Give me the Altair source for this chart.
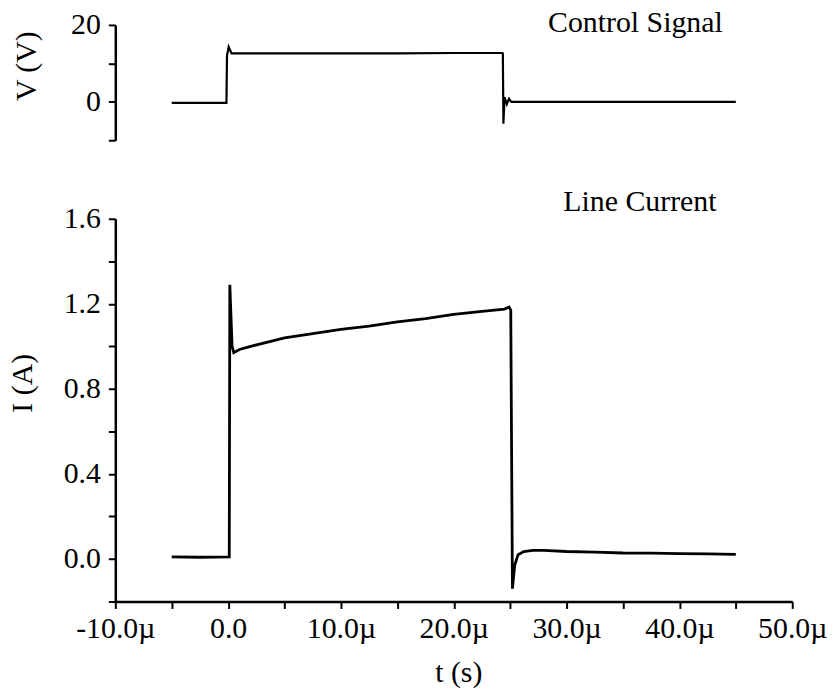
import altair as alt
import pandas as pd

FONT = "Liberation Serif"

# ---- Control signal (top panel): time in microseconds, voltage in volts
ctrl_t = [-5.0, -0.15, -0.1, 0.05, 0.3, 5.0, 10.0, 15.0, 20.0, 24.3, 24.35, 24.4, 24.5, 24.7, 24.9, 25.1, 30.0, 35.0, 40.0, 45.0]
ctrl_v = [-0.3, -0.3, 12.0, 14.3, 12.6, 12.6, 12.6, 12.6, 12.7, 12.7, 12.6, -5.7, 1.2, -0.6, 0.8, 0.0, 0.0, 0.0, 0.0, 0.0]

# ---- Line current (bottom panel): time in microseconds, current in amperes
cur_t = [-5.0, -2.5, 0.1, 0.15, 0.35, 0.5, 1.0, 2.0, 3.5, 5.0, 7.5, 10.0, 12.5, 15.0, 17.5, 20.0, 22.5, 24.5, 24.9,
         25.05, 25.2, 25.4, 25.7, 26.2, 27.0, 28.0, 30.0, 32.5, 35.0, 37.5, 40.0, 42.5, 45.0]
cur_i = [0.01, 0.008, 0.01, 1.29, 1.0, 0.97, 0.985, 1.0, 1.02, 1.04, 1.06, 1.08, 1.095, 1.115, 1.13, 1.15, 1.165, 1.175, 1.185,
         1.17, -0.14, -0.03, 0.02, 0.035, 0.04, 0.04, 0.035, 0.032, 0.028, 0.027, 0.025, 0.024, 0.022]

# ---- Annotations
ctrl_label = ["Control Signal"]
ctrl_label_t = [36.1]
ctrl_label_v = [20.4]
cur_label = ["Line Current"]
cur_label_t = [36.5]
cur_label_i = [1.68]

# ---- Axis ticks
x_ticks = [-10, -5, 0, 5, 10, 15, 20, 25, 30, 35, 40, 45, 50]
v_ticks = [-10.0, 0.0, 10.0, 20.0]
i_ticks = [-0.2, 0.0, 0.2, 0.4, 0.6, 0.8, 1.0, 1.2, 1.4, 1.6]

df_ctrl = pd.DataFrame({"t": ctrl_t, "v": ctrl_v, "idx": range(len(ctrl_t))})
df_cur = pd.DataFrame({"t": cur_t, "i": cur_i, "idx": range(len(cur_t))})
df_ctrl_lab = pd.DataFrame({"t": ctrl_label_t, "v": ctrl_label_v, "label": ctrl_label})
df_cur_lab = pd.DataFrame({"t": cur_label_t, "i": cur_label_i, "label": cur_label})

xscale = alt.Scale(domain=[-10, 50], nice=False, zero=False)
vscale = alt.Scale(domain=[-10, 20], nice=False, zero=False)
iscale = alt.Scale(domain=[-0.2, 1.6], nice=False, zero=False)

FS = 30
axis_common = dict(
    domainColor="black", domainWidth=2.5, tickColor="black", tickWidth=2, tickSize=7,
    labelFont=FONT, labelFontSize=FS, labelColor="black", labelOverlap=False,
    titleFont=FONT, titleFontSize=FS, titleFontWeight="normal", titleColor="black",
    grid=False,
)

W = 681

# Top panel
v_axis = alt.Axis(
    values=v_ticks,
    labelExpr="(datum.value == 0 || datum.value == 20) ? format(datum.value, 'd') : ''",
    title="V (V)", titleX=-89, titleY=41, titleBaseline="middle", titleAlign="center",
    labelPadding=8, **axis_common,
)
top_line = alt.Chart(df_ctrl).mark_line(color="black", strokeWidth=2.2).encode(
    x=alt.X("t:Q", scale=xscale, axis=None),
    y=alt.Y("v:Q", scale=vscale, axis=v_axis),
    order="idx:Q",
)
top_text = alt.Chart(df_ctrl_lab).mark_text(font=FONT, fontSize=FS, color="black").encode(
    x=alt.X("t:Q", scale=xscale, axis=None),
    y=alt.Y("v:Q", scale=vscale, axis=v_axis),
    text="label:N",
)
top = alt.layer(top_line, top_text).properties(width=W, height=116)

# Bottom panel
i_axis = alt.Axis(
    values=i_ticks,
    labelExpr="abs(round(datum.value * 10)) % 4 == 0 ? format(datum.value, '.1f') : ''",
    title="I (A)", titleX=-93, titleY=165, titleBaseline="middle", titleAlign="center",
    labelPadding=8, **axis_common,
)
x_axis = alt.Axis(
    values=x_ticks,
    labelExpr="datum.value == 0 ? '0.0' : (datum.value % 10 == 0 ? (datum.value < 0 ? '-' : '') + format(abs(datum.value), '.1f') + 'µ' : '')",
    title="t (s)", titleX=345, titleY=72, titleBaseline="middle", titleAlign="center",
    labelPadding=5, labelFlush=False, **axis_common,
)
bot_line = alt.Chart(df_cur).mark_line(color="black", strokeWidth=2.8).encode(
    x=alt.X("t:Q", scale=xscale, axis=x_axis),
    y=alt.Y("i:Q", scale=iscale, axis=i_axis),
    order="idx:Q",
)
bot_text = alt.Chart(df_cur_lab).mark_text(font=FONT, fontSize=FS, color="black").encode(
    x=alt.X("t:Q", scale=xscale, axis=x_axis),
    y=alt.Y("i:Q", scale=iscale, axis=i_axis),
    text="label:N",
)
bottom = alt.layer(bot_line, bot_text).properties(width=W, height=385)

chart = alt.vconcat(top, bottom, spacing=31).properties(
    padding={"left": 8, "top": 6, "right": 5, "bottom": 5},
    background="white",
).configure_view(stroke=None)

chart.save("out.html", embed_options={"renderer": "svg", "actions": False})
